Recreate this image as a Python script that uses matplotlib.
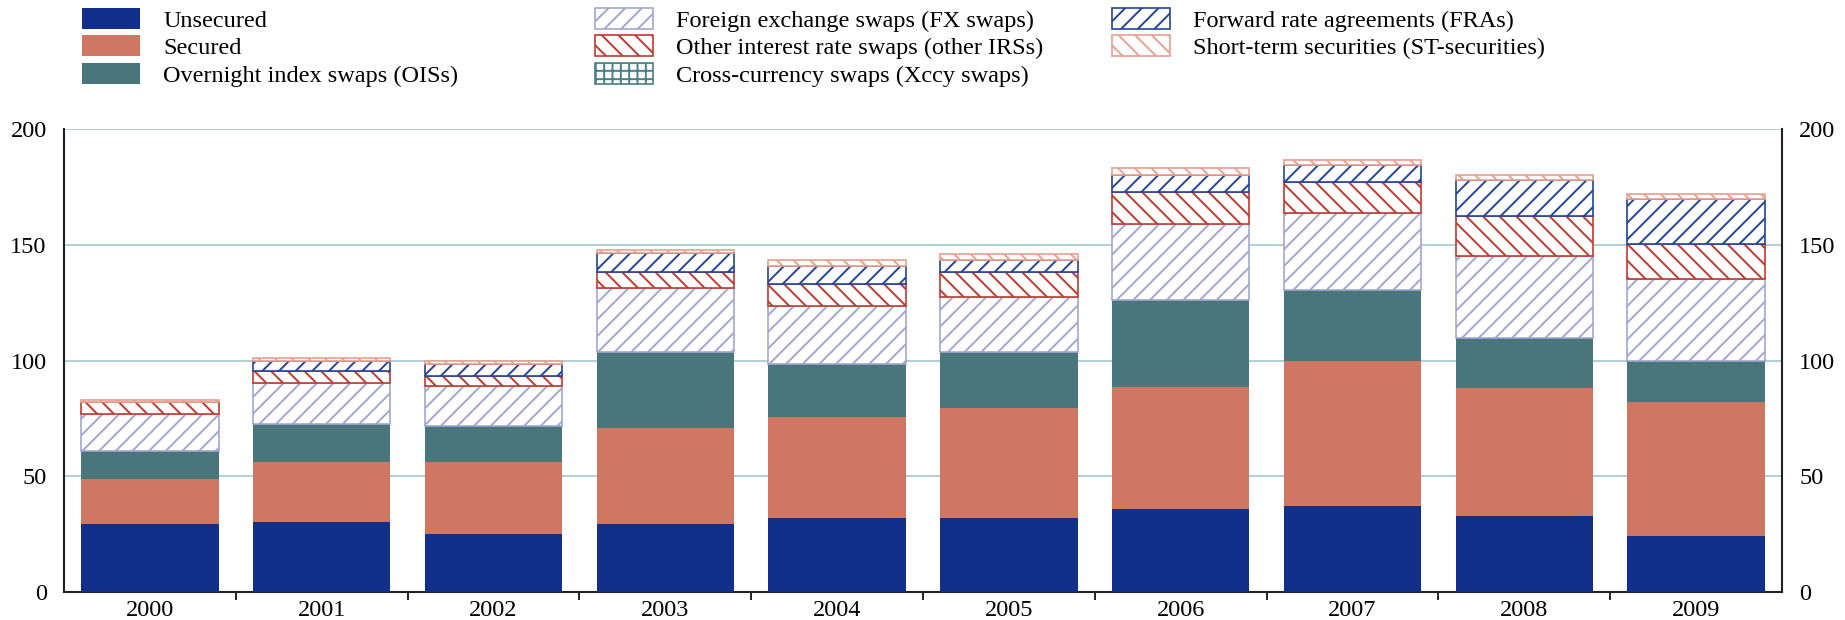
import numpy as np
import matplotlib
matplotlib.use("Agg")
import matplotlib.pyplot as plt
from matplotlib.patches import Patch

# =========================
# DATA
# =========================
years = ["2000", "2001", "2002", "2003", "2004", "2005", "2006", "2007", "2008", "2009"]

unsecured = [29.4, 30.1, 24.9, 29.3, 32.1, 32.1, 35.7, 37.2, 33.0, 24.2]
secured = [19.6, 26.0, 31.2, 41.5, 43.7, 47.3, 53.1, 62.8, 55.1, 57.7]
ois = [12.0, 16.4, 15.7, 32.8, 22.8, 24.2, 37.5, 30.6, 21.6, 18.1]
fx_swaps = [16.0, 18.0, 17.3, 27.7, 24.8, 24.1, 32.7, 33.4, 35.6, 35.2]
other_irs = [5.3, 5.2, 4.4, 7.2, 9.6, 10.4, 13.8, 13.2, 17.3, 15.3]
xccy_swaps = [0, 0, 0, 0, 0, 0, 0, 0, 0, 0]
fras = [0.0, 4.3, 5.0, 8.2, 8.0, 5.5, 7.5, 7.4, 15.3, 19.3]
st_securities = [0.5, 1.0, 1.5, 1.2, 2.6, 2.6, 2.9, 2.2, 2.4, 2.3]

labels = [
    "Unsecured",
    "Secured",
    "Overnight index swaps (OISs)",
    "Foreign exchange swaps (FX swaps)",
    "Other interest rate swaps (other IRSs)",
    "Cross-currency swaps (Xccy swaps)",
    "Forward rate agreements (FRAs)",
    "Short-term securities (ST-securities)",
]

# =========================
# STYLE
# =========================
plt.rcParams["font.family"] = ["Liberation Serif", "DejaVu Serif"]
plt.rcParams["hatch.linewidth"] = 1.4
FS = 17.5

# (values, facecolor, edgecolor, hatch)
series = [
    (unsecured, "#122F8A", "#122F8A", None),
    (secured, "#D07763", "#D07763", None),
    (ois, "#49767B", "#49767B", None),
    (fx_swaps, "white", "#A3A6D2", "//"),
    (other_irs, "white", "#C03A30", "\\\\"),
    (xccy_swaps, "white", "#4A7F84", "++"),
    (fras, "white", "#23449A", "//"),
    (st_securities, "white", "#E8A08F", "\\\\"),
]

# =========================
# PLOT
# =========================
fig = plt.figure(figsize=(18.45, 6.2), dpi=100)
ax = fig.add_axes([0.0347, 0.0452, 0.9311, 0.7463])

x = np.arange(len(years))
bottom = np.zeros(len(years))
for vals, fc, ec, hatch in series:
    vals = np.array(vals, dtype=float)
    edges = [ec if v > 0 else "none" for v in vals]
    ax.bar(x, vals, width=0.8, bottom=bottom, color=fc, edgecolor=edges,
           hatch=hatch, linewidth=1.2 if hatch else 0, zorder=3)
    bottom += vals

ax.set_xlim(-0.5, len(years) - 0.5)
ax.set_ylim(0, 200)
ax.set_yticks([0, 50, 100, 150, 200])
ax.yaxis.grid(True, color="#A9CCD3", linewidth=1.3, zorder=0)
ax.set_axisbelow(True)

ax.set_xticks(x)
ax.set_xticklabels(years, fontsize=FS)
ax.set_xticks(np.arange(0.5, len(years) - 1, 1), minor=True)
ax.tick_params(axis="x", which="major", length=0, pad=6)
ax.tick_params(axis="x", which="minor", length=6, width=1.2, direction="out")
ax.tick_params(axis="y", left=False, right=False, labelleft=True,
               labelright=True, labelsize=FS, pad=9)

ax.spines["top"].set_visible(False)
for s in ["left", "right", "bottom"]:
    ax.spines[s].set_linewidth(1.5)
    ax.spines[s].set_color("#222222")

# =========================
# LEGEND (three columns)
# =========================
handles = [Patch(facecolor=fc, edgecolor=ec, hatch=h, linewidth=1.2 if h else 0)
           for _, fc, ec, h in series]

cols = [(0, 3, 82), (3, 6, 595), (6, 8, 1112)]
for start, end, xpix in cols:
    leg = fig.legend(handles[start:end], labels[start:end], loc="upper left",
                     bbox_to_anchor=(xpix / 1845, 1 - 8 / 620), frameon=False,
                     fontsize=FS, borderpad=0, borderaxespad=0,
                     handlelength=2.4, handleheight=0.95, labelspacing=0.15,
                     handletextpad=0.95)

fig.savefig("out.png", dpi=100)
